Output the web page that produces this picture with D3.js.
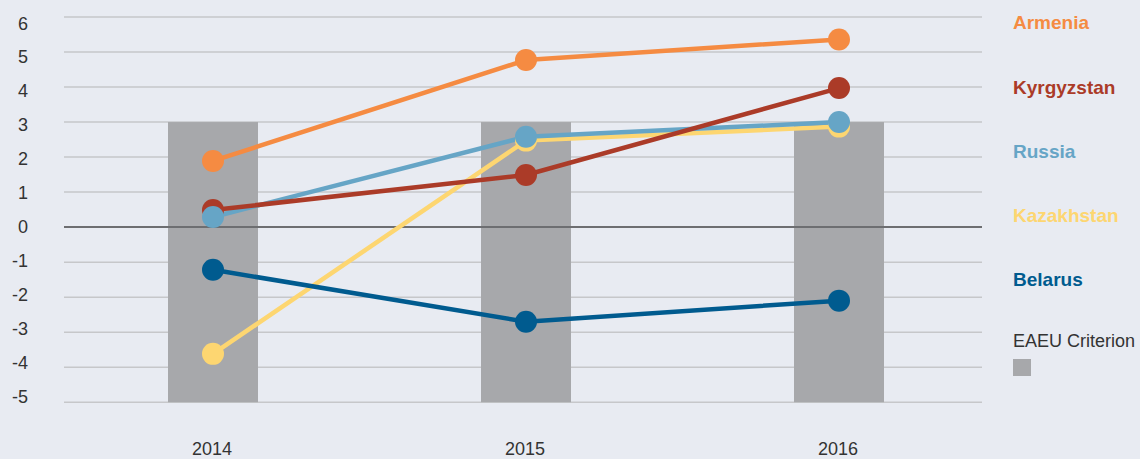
<!DOCTYPE html>
<meta charset="utf-8">
<script src="https://d3js.org/d3.v7.min.js"></script>
<style>
  body { margin: 0; background: #e8ebf2; }
  text { font-family: "Liberation Sans", Arial, sans-serif; }
</style>
<div id="my_dataviz"></div>
<script>

    // chart data
    var years = ["2014", "2015", "2016"];
    var criterion = [3, 3, 3];
    var armenia = [1.89, 4.77, 5.36];
    var kyrgyzstan = [0.49, 1.49, 3.97];
    var kazakhstan = [-3.62, 2.47, 2.87];
    var russia = [0.29, 2.58, 3.0];
    var belarus = [-1.22, -2.70, -2.1];
    var yTicks = [-5, -4, -3, -2, -1, 0, 1, 2, 3, 4, 5, 6];

    // line order: later on top
    var series = [
        {name: "Armenia", values: armenia, color: "#f58b42", label: 29},
        {name: "Kazakhstan", values: kazakhstan, color: "#fdd671", label: 222},
        {name: "Russia", values: russia, color: "#66a5c6", label: 158},
        {name: "Kyrgyzstan", values: kyrgyzstan, color: "#ab3b28", label: 94},
        {name: "Belarus", values: belarus, color: "#005b8f", label: 286}
    ];
    // dots: russia sits above kyrgyzstan
    var dotOrder = [0, 3, 1, 2, 4];

    var width = 1140, height = 459;

    var svg = d3.select("#my_dataviz")
        .append("svg")
            .attr("width", width)
            .attr("height", height);

    svg.append("rect")
        .attr("width", width).attr("height", height)
        .attr("fill", "#e8ebf2");

    var x = d3.scalePoint()
        .domain(years)
        .range([213, 839]);

    var y = d3.scaleLinear()
        .domain([-5, 6])
        .range([402.2, 17]);

    // tick labels sit a bit tighter than the grid
    var yLabel = d3.scaleLinear()
        .domain([-5, 6])
        .range([396, 23]);

    var barWidth = 90;

    // grid lines
    svg.append("g")
        .selectAll("line")
        .data(yTicks)
        .enter()
        .append("line")
            .attr("x1", 64).attr("x2", 982)
            .attr("y1", function(d) { return y(d); })
            .attr("y2", function(d) { return y(d); })
            .attr("stroke", "#c6c7ca")
            .attr("stroke-width", 1.5);

    // y labels
    svg.append("g")
        .selectAll("text")
        .data(yTicks)
        .enter()
        .append("text")
            .attr("x", 28)
            .attr("y", function(d) { return yLabel(d) + 6.5; })
            .attr("text-anchor", "end")
            .attr("font-size", 18)
            .attr("fill", "#333")
            .text(function(d) { return d; });

    // criterion bars
    svg.append("g")
        .selectAll("rect")
        .data(criterion)
        .enter()
        .append("rect")
            .attr("x", function(d, i) { return x(years[i]) - barWidth / 2; })
            .attr("y", function(d) { return y(d); })
            .attr("width", barWidth)
            .attr("height", function(d) { return y(-5) - y(d); })
            .attr("fill", "#a7a8ab");

    // zero line
    svg.append("line")
        .attr("x1", 64).attr("x2", 982)
        .attr("y1", y(0)).attr("y2", y(0))
        .attr("stroke", "#6d6e71")
        .attr("stroke-width", 2);

    // x labels
    svg.append("g")
        .selectAll("text")
        .data(years)
        .enter()
        .append("text")
            .attr("x", function(d) { return x(d) - 1; })
            .attr("y", 455)
            .attr("text-anchor", "middle")
            .attr("font-size", 18)
            .attr("fill", "#333")
            .text(function(d) { return d; });

    var line = d3.line()
        .x(function(d, i) { return x(years[i]); })
        .y(function(d) { return y(d); });

    // lines
    svg.append("g")
        .selectAll("path")
        .data(series)
        .enter()
        .append("path")
            .attr("d", function(s) { return line(s.values); })
            .attr("fill", "none")
            .attr("stroke", function(s) { return s.color; })
            .attr("stroke-width", 4.5);

    // dots
    dotOrder.forEach(function(k) {
        var s = series[k];
        svg.append("g")
            .selectAll("circle")
            .data(s.values)
            .enter()
            .append("circle")
                .attr("cx", function(d, i) { return x(years[i]); })
                .attr("cy", function(d) { return y(d); })
                .attr("r", 11)
                .attr("fill", s.color);
    });

    // legend labels
    svg.append("g")
        .selectAll("text")
        .data(series)
        .enter()
        .append("text")
            .attr("x", 1013)
            .attr("y", function(s) { return s.label; })
            .attr("font-size", 19)
            .attr("font-weight", "bold")
            .attr("fill", function(s) { return s.color; })
            .text(function(s) { return s.name; });

    svg.append("text")
        .attr("x", 1013)
        .attr("y", 347)
        .attr("font-size", 18)
        .attr("fill", "#333")
        .text("EAEU Criterion");

    svg.append("rect")
        .attr("x", 1013).attr("y", 359)
        .attr("width", 18).attr("height", 17)
        .attr("fill", "#a7a8ab");

</script>
